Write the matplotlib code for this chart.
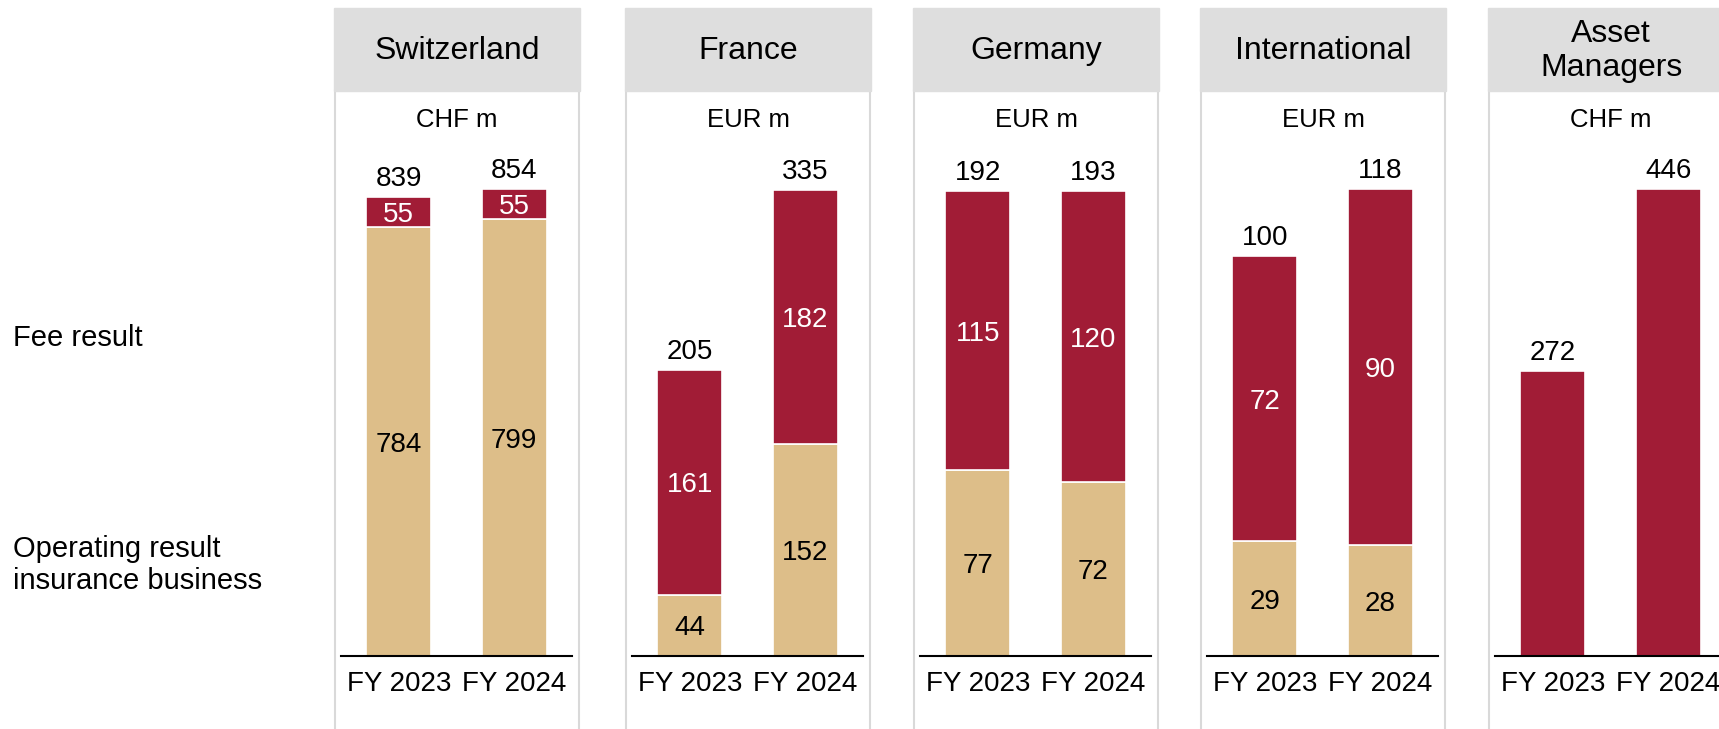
import matplotlib
matplotlib.use('Agg')
import matplotlib.pyplot as plt
from matplotlib.patches import Rectangle
from matplotlib.lines import Line2D

plt.rcParams['font.family'] = ['Liberation Sans', 'DejaVu Sans']

# segment data, CHF/EUR millions
regions = ['Switzerland', 'France', 'Germany', 'International', 'Asset\nManagers']
units = ['CHF m', 'EUR m', 'EUR m', 'EUR m', 'CHF m']
years = ['FY 2023', 'FY 2024']
op_2023 = [784, 44, 77, 29, 0]
op_2024 = [799, 152, 72, 28, 0]
fee_2023 = [55, 161, 115, 72, 272]
fee_2024 = [55, 182, 120, 90, 446]
total_2023 = [839, 205, 192, 100, 272]
total_2024 = [854, 335, 193, 118, 446]

RED = '#A11C36'
TAN = '#DDBE89'
HEAD = '#DEDEDE'
BORDER = '#D9D9D9'

W, H = 1719, 729
fig = plt.figure(figsize=(W / 100, H / 100), dpi=100)


def fx(px):
    return px / W


def fy(py):
    return 1 - py / H


# row labels on the left
fig.text(fx(13), fy(338), 'Fee result', fontsize=21, va='center', ha='left')
fig.text(fx(13), fy(565), 'Operating result\ninsurance business', fontsize=21,
         va='center', ha='left', linespacing=1.2)

panel_left = [334, 625, 913, 1200, 1488]
panel_w = 246
NUM = 20

for i, name in enumerate(regions):
    left = panel_left[i]

    # grey header and panel frame
    fig.patches.append(Rectangle((fx(left), fy(91)), fx(panel_w), fy(8) - fy(91),
                                 transform=fig.transFigure, color=HEAD, zorder=0))
    for xb in (left + 1, left + panel_w - 1):
        fig.lines.append(Line2D([fx(xb), fx(xb)], [fy(91), 0], transform=fig.transFigure,
                                color=BORDER, lw=1.5, zorder=0))
    fig.text(fx(left + panel_w / 2), fy(51), name, fontsize=23, ha='center',
             va='center', linespacing=1.15)
    fig.text(fx(left + panel_w / 2), fy(120), units[i], fontsize=18.5, ha='center',
             va='center')

    ax = fig.add_axes([fx(left + 7), fy(656), fx(231), fy(189) - fy(656)])
    ymax = max(total_2023[i], total_2024[i])
    ops = [op_2023[i], op_2024[i]]
    fees = [fee_2023[i], fee_2024[i]]
    tots = [total_2023[i], total_2024[i]]
    x = [0, 1]
    ax.bar(x, ops, width=0.56, color=TAN, edgecolor='white', linewidth=1.2)
    ax.bar(x, fees, width=0.56, bottom=ops, color=RED, edgecolor='white', linewidth=1.2)

    for j in x:
        if ops[j] > 0:
            ax.text(j, ops[j] / 2, str(ops[j]), ha='center', va='center_baseline',
                    fontsize=NUM, color='black')
            ax.text(j, ops[j] + fees[j] / 2, str(fees[j]), ha='center',
                    va='center_baseline', fontsize=NUM, color='white')
        ax.annotate(str(tots[j]), (j, ops[j] + fees[j]), xytext=(0, 8),
                    textcoords='offset points', ha='center', va='baseline',
                    fontsize=NUM, annotation_clip=False)

    ax.set_xlim(-0.5, 1.5)
    ax.set_ylim(0, ymax)
    ax.set_xticks(x)
    ax.set_xticklabels(years, fontsize=NUM)
    ax.tick_params(axis='x', length=0, pad=11)
    ax.set_yticks([])
    for s in ('top', 'left', 'right'):
        ax.spines[s].set_visible(False)
    ax.spines['bottom'].set_linewidth(1.5)
    ax.patch.set_visible(False)

fig.savefig('out.png', dpi=100)
